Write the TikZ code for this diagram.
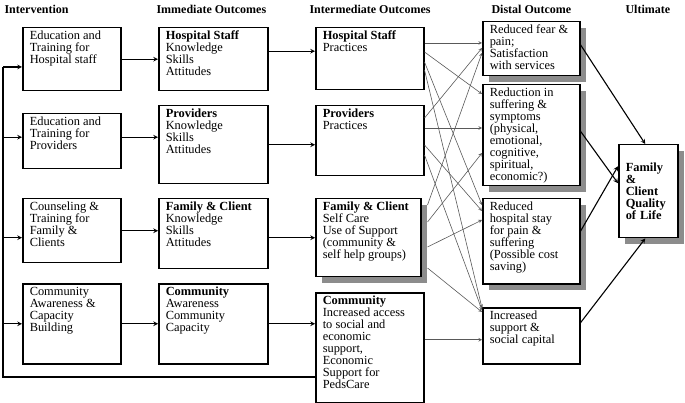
\documentclass[tikz,border=0pt]{standalone}
\usepackage{fontspec}
\setmainfont{Liberation Serif}
\usetikzlibrary{shadows}

\newcommand{\boxtext}[3]{\parbox[t][#2][t]{#1}{\raggedright #3}}

\begin{document}
\begin{tikzpicture}[%
        x = 1pt,
        y = -1pt,
        > = stealth,
        font = \fontsize{12.4}{12}\selectfont,
        outbox/.style = {%
            draw = black,
            line width = 1.5pt,
            fill = white,
            anchor = north west,
            inner xsep = 7pt,
            inner ysep = 3.5pt
        },
        shadowbox/.style = {%
            outbox,
            drop shadow = {shadow xshift = 6pt, shadow yshift = -6pt,
                fill = gray!90, opacity = 1}
        },
        thickarrow/.style = {%
            draw = black,
            line width = 1.1pt,
            ->
        },
        thinarrow/.style = {%
            draw = gray!70!black,
            line width = 0.6pt,
            ->
        },
        header/.style = {%
            font = \fontsize{12}{12}\selectfont\bfseries,
            anchor = west
        }
    ]

        \useasboundingbox (0, 0) rectangle (685, 403);

        % Column headers.
        \node[header] (hint) at (1, 9) {Intervention};
        \node[header] (himm) at (153, 9) {Immediate Outcomes};
        \node[header] (hmid) at (306, 9) {Intermediate Outcomes};
        \node[header] (hdis) at (488, 9) {Distal Outcome};
        \node[header] (hult) at (622, 9) {Ultimate};

        % Interventions.
        \node[outbox] (int1) at (22, 27) {\boxtext{84pt}{56pt}{Education and\\ Training for\\ Hospital staff}};
        \node[outbox] (int2) at (22, 113) {\boxtext{84pt}{48pt}{Education and\\ Training for\\ Providers}};
        \node[outbox] (int3) at (22, 198) {\boxtext{84pt}{57pt}{Counseling \&\\ Training for\\ Family \&\\ Clients}};
        \node[outbox] (int4) at (22, 283) {\boxtext{84pt}{73pt}{Community\\ Awareness \&\\ Capacity\\ Building}};

        % Immediate outcomes.
        \node[outbox] (imm1) at (158, 27) {\boxtext{95pt}{56pt}{\textbf{Hospital Staff}\\ Knowledge\\ Skills\\ Attitudes}};
        \node[outbox] (imm2) at (158, 105) {\boxtext{95pt}{71pt}{\textbf{Providers}\\ Knowledge\\ Skills\\ Attitudes}};
        \node[outbox] (imm3) at (158, 198) {\boxtext{95pt}{63pt}{\textbf{Family \& Client}\\ Knowledge\\ Skills\\ Attitudes}};
        \node[outbox] (imm4) at (158, 283) {\boxtext{95pt}{73pt}{\textbf{Community}\\ Awareness\\ Community\\ Capacity}};

        % Intermediate outcomes.
        \node[outbox] (mid1) at (315, 27) {\boxtext{94pt}{55pt}{\textbf{Hospital Staff}\\ Practices}};
        \node[outbox] (mid2) at (315, 105) {\boxtext{94pt}{63pt}{\textbf{Providers}\\ Practices}};
        \node[shadowbox] (mid3) at (315, 198) {\boxtext{91pt}{71pt}{\textbf{Family \& Client}\\ Self Care\\ Use of Support\\ (community \&\\ self help groups)}};
        \node[outbox] (mid4) at (315, 292) {\boxtext{94pt}{103pt}{\textbf{Community}\\ Increased access\\ to social and\\ economic\\ support,\\ Economic\\ Support for\\ PedsCare}};

        % Distal outcomes.
        \node[shadowbox] (dis1) at (482, 21) {\boxtext{83pt}{47pt}{Reduced fear \&\\ pain;\\ Satisfaction\\ with services}};
        \node[shadowbox] (dis2) at (482, 84) {\boxtext{83pt}{94pt}{Reduction in\\ suffering \&\\ symptoms\\ (physical,\\ emotional,\\ cognitive,\\ spiritual,\\ economic?)}};
        \node[shadowbox] (dis3) at (482, 198) {\boxtext{83pt}{78pt}{Reduced\\ hospital stay\\ for pain \&\\ suffering\\ (Possible cost\\ saving)}};
        \node[outbox] (dis4) at (482, 307) {\boxtext{83pt}{49pt}{Increased\\ support \&\\ social capital}};

        % Ultimate outcome.
        \node[shadowbox, anchor = north west, minimum width = 59pt, minimum height = 93pt,
            text width = 45pt, align = left, font = \fontsize{12.4}{12}\selectfont\bfseries]
            (qol) at (618, 144) {Family\\ \&\\ Client\\ Quality\\ of Life};

        % Feedback line from the community box back to every intervention.
        \coordinate (fbot) at (3, 377);
        \coordinate (ftop) at (3, 67);
        \draw[line width = 1.1pt] (mid4.west |- fbot) -- (fbot) -- (ftop);
        \draw[thickarrow] (ftop) -- (ftop -| int1.west);
        \draw[thickarrow] ([yshift = 4pt]fbot |- int2.west) -- ([yshift = 4pt]int2.west);
        \draw[thickarrow] ([yshift = -7pt]fbot |- int3.west) -- ([yshift = -7pt]int3.west);
        \draw[thickarrow] (fbot |- int4.west) -- (int4.west);

        % Interventions to immediate outcomes.
        \draw[thickarrow] (int1.east) -- (int1.east -| imm1.west);
        \draw[thickarrow] ([yshift = 4pt]int2.east) -- ([yshift = 4pt]int2.east -| imm2.west);
        \draw[thickarrow] (int3.east) -- (int3.east -| imm3.west);
        \draw[thickarrow] (int4.east) -- (int4.east -| imm4.west);

        % Immediate to intermediate outcomes.
        \draw[thickarrow] ([yshift = 8pt]imm1.east) -- ([yshift = 8pt]imm1.east -| mid1.west);
        \draw[thickarrow] (imm2.east) -- (imm2.east -| mid2.west);
        \draw[thickarrow] ([yshift = -4pt]imm3.east) -- ([yshift = -4pt]imm3.east -| mid3.west);
        \draw[thickarrow] (imm4.east) -- (imm4.east -| mid4.west);

        % Intermediate to distal outcomes.
        \draw[thinarrow] ([yshift = -16pt]mid1.north east) -- ([yshift = -22pt]dis1.north west);
        \draw[thinarrow] ([yshift = -25pt]mid1.north east) -- ([yshift = -10pt]dis2.north west);
        \draw[thinarrow] ([yshift = -35pt]mid1.north east) -- ([yshift = -7pt]dis3.north west);
        \draw[thinarrow] ([yshift = -43pt]mid1.north east) -- ([yshift = -1pt]dis4.north west);
        \draw[thinarrow] ([yshift = -13pt]mid2.north east) -- ([yshift = -27pt]dis1.north west);
        \draw[thinarrow] ([yshift = -23pt]mid2.north east) -- ([yshift = -44pt]dis2.north west);
        \draw[thinarrow] ([yshift = -40pt]mid2.north east) -- ([yshift = -13pt]dis3.north west);
        \draw[thinarrow] ([yshift = -50pt]mid2.north east) -- ([yshift = -3pt]dis4.north west);
        \draw[thinarrow] ([xshift = 6pt, yshift = -7pt]mid3.north east) -- ([yshift = -32pt]dis1.north west);
        \draw[thinarrow] ([xshift = 6pt, yshift = -24pt]mid3.north east) -- ([yshift = -69pt]dis2.north west);
        \draw[thinarrow] ([xshift = 6pt, yshift = -49pt]mid3.north east) -- ([yshift = -22pt]dis3.north west);
        \draw[thinarrow] ([xshift = 6pt, yshift = -70pt]mid3.north east) -- ([yshift = -5pt]dis4.north west);
        \draw[thinarrow] ([yshift = 8pt]mid4.east) -- ([yshift = 8pt]mid4.east -| dis4.west);

        % Distal outcomes to quality of life.
        \draw[thickarrow] ([yshift = 4pt]dis1.east) -- ([xshift = -3pt]qol.north);
        \draw[thickarrow] ([yshift = 4pt]dis2.east) -- ([yshift = 8pt]qol.west);
        \draw[thickarrow] ([yshift = 10pt]dis3.east) -- ([yshift = 25pt]qol.west);
        \draw[thickarrow] ([yshift = 13pt]dis4.east) -- ([xshift = -3pt]qol.south);
    \end{tikzpicture}
\end{document}
